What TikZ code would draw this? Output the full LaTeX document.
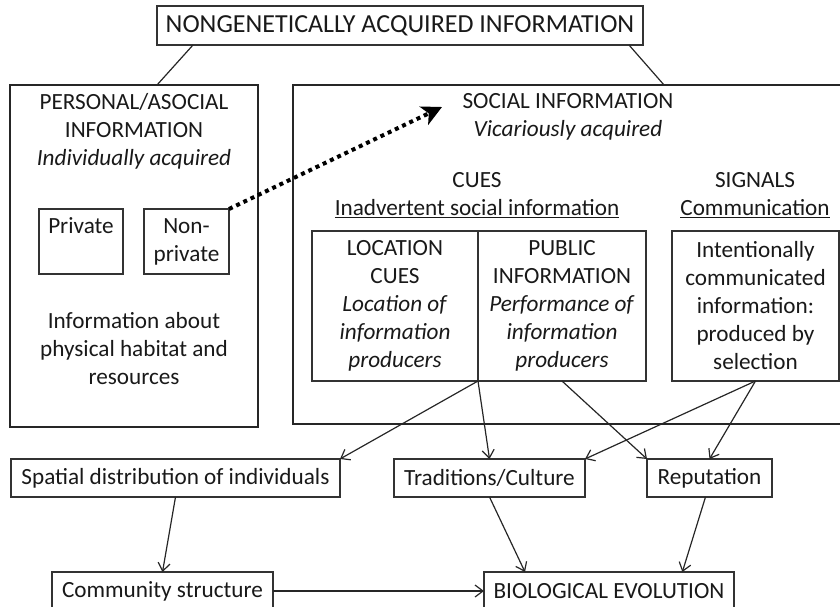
\documentclass[tikz,border=0pt]{standalone}
\usepackage{fontspec}
\setmainfont{Carlito}
\usetikzlibrary{arrows.meta, positioning}

\newcommand\boxfont{\fontsize{17.4pt}{21pt}\selectfont}
\newcommand\headfont{\fontsize{19.5pt}{23pt}\selectfont}

\begin{document}
\begin{tikzpicture}[
    x=0.75pt, y=-0.75pt,                % one unit = one pixel, y downwards
    frame/.style={rectangle, draw=black!85, line width=2.2pt,
                  inner sep=0pt, outer sep=0pt},
    box/.style={rectangle, draw=black!80, line width=0.9pt,
                inner sep=0pt, outer sep=0pt, align=center,
                text=black!90, font=\boxfont},
    txt/.style={align=center, inner sep=0pt, text=black!90, font=\boxfont},
    link/.style={line width=0.9pt, draw=black!85},
    arrow/.style={link, -{Straight Barb[length=6pt,width=9pt]}},
    hint/.style={-{Stealth[length=15pt,width=15pt,inset=4pt]},
                 line width=3pt, dash pattern=on 3pt off 3pt, draw=black}
]
\useasboundingbox (0,0) rectangle (840,607);
\clip (0,0) rectangle (840,607);

% root
\node (nga) [box, font=\headfont, minimum width=364.5pt,
             minimum height=29.25pt] at (400,25.5) {NONGENETICALLY ACQUIRED INFORMATION};

% the two big frames
\node (personal) [frame, minimum width=186pt, minimum height=256.5pt] at (134,256) {};
\node (social)   [frame, minimum width=417.75pt, minimum height=254.25pt] at (571.5,254.5) {};

% personal / asocial side
\node (ptitle)  [txt] at (134,131) {PERSONAL/ASOCIAL\\INFORMATION\\\textit{Individually acquired}};
\node (private) [box, minimum width=63pt, minimum height=48.75pt]
                at (81,241.5) {Private\\\phantom{private}};
\node (nonpriv) [box, minimum width=63.75pt, minimum height=48.75pt]
                at (186.5,241.5) {Non-\\private};
\node (habitat) [txt] at (134,349) {Information about\\physical habitat and\\resources};

% social side
\node (stitle)  [txt] at (568,117) {SOCIAL INFORMATION\\\textit{Vicariously acquired}};
\node (cues)    [txt] at (477,195) {CUES\\\underline{Inadvertent social information}};
\node (signals) [txt] at (755,195) {SIGNALS\\\underline{Communication}};

\node (loc) [box, minimum width=124.5pt, minimum height=112.5pt] at (395,306)
    {LOCATION\\CUES\\\textit{Location of}\\\textit{information}\\\textit{producers}};
\node (pub) [box, minimum width=126pt, minimum height=112.5pt, right=0pt of loc]
    {PUBLIC\\INFORMATION\\\textit{Performance of}\\\textit{information}\\\textit{producers}};
\node (sig) [box, minimum width=125.25pt, minimum height=112.5pt] at (755.5,306)
    {Intentionally\\communicated\\information:\\produced by\\selection};

% outcomes
\node (spatial) [box, minimum width=246.75pt, minimum height=28.5pt] at (175.5,478) {Spatial distribution of individuals};
\node (tradit)  [box, minimum width=143.25pt, minimum height=28.5pt] at (489.5,478) {Traditions/Culture};
\node (reput)   [box, minimum width=93.75pt,  minimum height=28.5pt] at (709.5,478) {Reputation};
\node (commun)  [box, minimum width=165.75pt, minimum height=28.5pt] at (162.5,591) {Community structure};
\node (bioevo)  [box, minimum width=187.5pt,  minimum height=28.5pt] at (609,591) {BIOLOGICAL EVOLUTION};

\coordinate (tip) at (442,107);

\draw [link] ([xshift=27pt]nga.south west)   -- ([xshift=17.25pt]personal.north);
\draw [link] ([xshift=-10.5pt]nga.south east) -- ([xshift=69.4pt]social.north);
\draw [hint] (nonpriv.north east) -- (tip);

\draw [arrow] (loc.south east) -- (spatial.north east);
\draw [arrow] (loc.south east) -- (tradit.north);
\draw [arrow] (pub.south)      -- (reput.north west);
\draw [arrow] (sig.south)      -- (tradit.north east);
\draw [arrow] (sig.south)      -- (reput.north);
\draw [arrow] (spatial.south)  -- (commun.north);
\draw [arrow] (tradit.south)   -- ([xshift=-63pt]bioevo.north);
\draw [arrow] ([xshift=-3pt]reput.south) -- ([xshift=55pt]bioevo.north);
\draw [arrow] (commun) -- (bioevo);
\end{tikzpicture}
\end{document}
